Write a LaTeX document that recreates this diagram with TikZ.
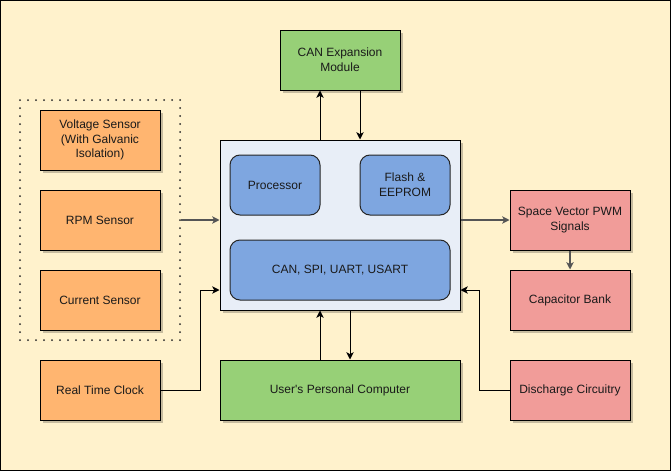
\documentclass[tikz,border=0pt]{standalone}
\usepackage{fontspec}
\setmainfont{Liberation Sans}
\usetikzlibrary{arrows.meta,calc,shadows}
\definecolor{bg}{HTML}{FFF2CC}
\definecolor{orng}{HTML}{FFB570}
\definecolor{grn}{HTML}{97D077}
\definecolor{pnk}{HTML}{F19C99}
\definecolor{blu}{HTML}{7EA6E0}
\definecolor{mcufill}{HTML}{E8EEF7}
\definecolor{txt}{HTML}{1A1A1A}
\definecolor{garr}{HTML}{555555}
\begin{document}
\begin{tikzpicture}[x=0.75pt,y=-0.75pt,
  shad/.style={drop shadow={shadow xshift=2.25pt,shadow yshift=-2.25pt,opacity=0.22,fill=black}},
  box/.style={draw=black,line width=0.75pt,rectangle,minimum width=90pt,minimum height=45pt,align=center,font=\fontsize{9}{11}\selectfont,text=txt,inner sep=1pt,shad},
  obox/.style={box,fill=orng},
  gbox/.style={box,fill=grn},
  pbox/.style={box,fill=pnk},
  ibox/.style={draw=black!85,line width=0.75pt,rectangle,rounded corners=7.5pt,fill=blu,minimum width=67.5pt,minimum height=45pt,align=center,font=\fontsize{9}{11}\selectfont,text=txt},
  arr/.style={draw=black,line width=0.75pt,-{Stealth[length=5.5pt,width=5.5pt,inset=1.5pt]}},
  garrow/.style={arr,draw=garr,line width=1pt}
]
\path[fill=bg,draw=black,line width=0.75pt] (0.5,0.5) rectangle (670.5,470.5);
\useasboundingbox (0,0) rectangle (671,471);

% dotted group
\node[draw=black!85,line width=1.5pt,dash pattern=on 0pt off 6pt,line cap=round,minimum width=120pt,minimum height=180pt] (grp) at (100,220) {};

\node[obox] (volt) at (100,140) {Voltage Sensor\\(With Galvanic\\Isolation)};
\node[obox] (rpm) at (100,220) {RPM Sensor};
\node[obox] (cur) at (100,300) {Current Sensor};
\node[obox] (rtc) at (100,390) {Real Time Clock};

\node[gbox] (canx) at (340,60) {CAN Expansion\\Module};
\node[box,fill=mcufill,minimum width=180pt,minimum height=127.5pt] (mcu) at (340,225) {};
\node[ibox] (proc) at (275,185) {Processor};
\node[ibox] (flash) at (405,185) {Flash \&\\EEPROM};
\node[ibox,minimum width=165pt] (bus) at (340,270) {CAN, SPI, UART, USART};
\node[gbox,minimum width=180pt] (pc) at (340,390) {User\textquotesingle s Personal Computer};

\node[pbox] (svp) at (570,220) {Space Vector PWM\\Signals};
\node[pbox] (cap) at (570,300) {Capacitor Bank};
\node[pbox] (dis) at (570,390) {Discharge Circuitry};

% connectors
\draw[arr] ($(mcu.north)+(-20,0)$) -- ($(canx.south)+(-20,0)$);
\draw[arr] ($(canx.south)+(20,0)$) -- ($(mcu.north)+(20,0)$);
\draw[arr] ($(pc.north)+(-20,0)$) -- ($(mcu.south)+(-20,0)$);
\draw[arr] ($(mcu.south)+(10,0)$) -- ($(pc.north)+(10,0)$);
\draw[garrow] (grp.east) -- ($(mcu.west)+(0,-5)$);
\draw[garrow] ($(mcu.east)+(0,-5)$) -- (svp.west);
\draw[garrow] (svp.south) -- (cap.north);
\draw[arr] (rtc.east) -- ++(40,0) |- ($(mcu.west)+(0,65)$);
\draw[arr] (dis.west) -- ++(-30,0) |- ($(mcu.east)+(0,65)$);
\end{tikzpicture}
\end{document}
